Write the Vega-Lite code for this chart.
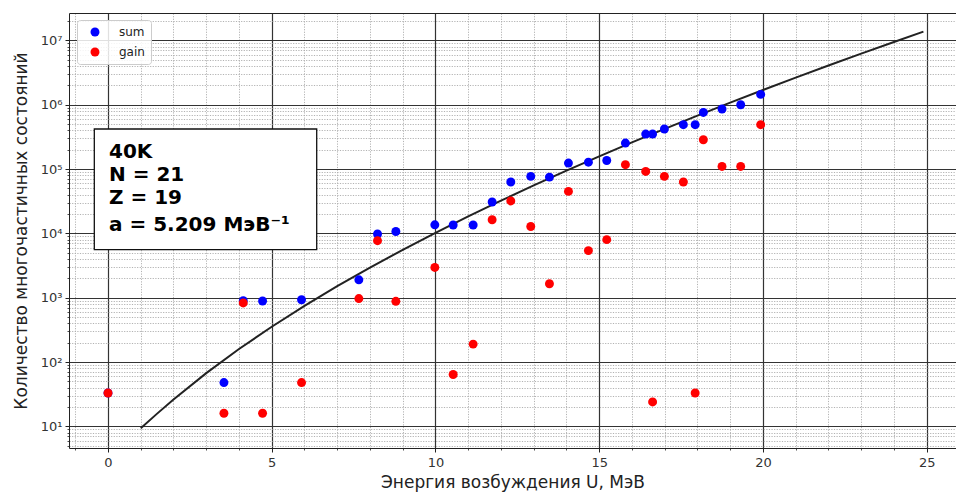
{
  "$schema": "https://vega.github.io/schema/vega-lite/v6.json",
  "width": 887,
  "height": 435,
  "autosize": {"type": "none"},
  "padding": {"left": 69, "top": 13, "right": 0, "bottom": 46},
  "background": "white",
  "config": {
    "view": {"stroke": null},
    "font": "DejaVu Sans",
    "axis": {"labelFont": "DejaVu Sans", "titleFont": "DejaVu Sans"}
  },
  "datasets": {
    "levels": [
      {"U": 0, "N": 33, "series": "sum"},
      {"U": 3.54, "N": 48, "series": "sum"},
      {"U": 4.13, "N": 900, "series": "sum"},
      {"U": 4.72, "N": 890, "series": "sum"},
      {"U": 5.91, "N": 930, "series": "sum"},
      {"U": 7.66, "N": 1900, "series": "sum"},
      {"U": 8.23, "N": 9800, "series": "sum"},
      {"U": 8.79, "N": 10700, "series": "sum"},
      {"U": 9.98, "N": 13600, "series": "sum"},
      {"U": 10.54, "N": 13500, "series": "sum"},
      {"U": 11.15, "N": 13500, "series": "sum"},
      {"U": 11.73, "N": 30800, "series": "sum"},
      {"U": 12.3, "N": 63000, "series": "sum"},
      {"U": 12.91, "N": 77000, "series": "sum"},
      {"U": 13.48, "N": 75000, "series": "sum"},
      {"U": 14.06, "N": 124000, "series": "sum"},
      {"U": 14.67, "N": 128000, "series": "sum"},
      {"U": 15.23, "N": 136000, "series": "sum"},
      {"U": 15.8, "N": 254000, "series": "sum"},
      {"U": 16.42, "N": 350000, "series": "sum"},
      {"U": 16.63, "N": 350000, "series": "sum"},
      {"U": 16.99, "N": 420000, "series": "sum"},
      {"U": 17.57, "N": 490000, "series": "sum"},
      {"U": 17.93, "N": 490000, "series": "sum"},
      {"U": 18.18, "N": 760000, "series": "sum"},
      {"U": 18.75, "N": 860000, "series": "sum"},
      {"U": 19.32, "N": 1000000, "series": "sum"},
      {"U": 19.93, "N": 1450000, "series": "sum"},
      {"U": 0, "N": 33, "series": "gain"},
      {"U": 3.54, "N": 16, "series": "gain"},
      {"U": 4.13, "N": 830, "series": "gain"},
      {"U": 4.72, "N": 16, "series": "gain"},
      {"U": 5.91, "N": 48, "series": "gain"},
      {"U": 7.66, "N": 970, "series": "gain"},
      {"U": 8.23, "N": 7700, "series": "gain"},
      {"U": 8.79, "N": 880, "series": "gain"},
      {"U": 9.98, "N": 2960, "series": "gain"},
      {"U": 10.54, "N": 64, "series": "gain"},
      {"U": 11.15, "N": 190, "series": "gain"},
      {"U": 11.73, "N": 16300, "series": "gain"},
      {"U": 12.3, "N": 32000, "series": "gain"},
      {"U": 12.91, "N": 12800, "series": "gain"},
      {"U": 13.48, "N": 1650, "series": "gain"},
      {"U": 14.06, "N": 45000, "series": "gain"},
      {"U": 14.67, "N": 5400, "series": "gain"},
      {"U": 15.23, "N": 8000, "series": "gain"},
      {"U": 15.8, "N": 117000, "series": "gain"},
      {"U": 16.42, "N": 92000, "series": "gain"},
      {"U": 16.63, "N": 24, "series": "gain"},
      {"U": 16.99, "N": 77000, "series": "gain"},
      {"U": 17.57, "N": 63000, "series": "gain"},
      {"U": 17.93, "N": 33, "series": "gain"},
      {"U": 18.18, "N": 286000, "series": "gain"},
      {"U": 18.75, "N": 110000, "series": "gain"},
      {"U": 19.32, "N": 110000, "series": "gain"},
      {"U": 19.93, "N": 490000, "series": "gain"}
    ],
    "density": [
      {"U": 1, "rho": 9.39},
      {"U": 1.5, "rho": 15.78},
      {"U": 2, "rho": 26.15},
      {"U": 3, "rho": 67.2},
      {"U": 4, "rho": 159.3},
      {"U": 5, "rho": 354.2},
      {"U": 6, "rho": 747},
      {"U": 7, "rho": 1509},
      {"U": 8, "rho": 2940},
      {"U": 9, "rho": 5553},
      {"U": 10, "rho": 10210},
      {"U": 11, "rho": 18340},
      {"U": 12, "rho": 32240},
      {"U": 13, "rho": 55640},
      {"U": 14, "rho": 94380},
      {"U": 15, "rho": 157700},
      {"U": 16, "rho": 259700},
      {"U": 17, "rho": 422400},
      {"U": 18, "rho": 678500},
      {"U": 19, "rho": 1078300},
      {"U": 20, "rho": 1696000},
      {"U": 21, "rho": 2641000},
      {"U": 22, "rho": 4077000},
      {"U": 23, "rho": 6240000},
      {"U": 24, "rho": 9475000},
      {"U": 24.9, "rho": 13710000}
    ],
    "note": [{}]
  },
  "layer": [
    {
      "data": {"name": "density"},
      "mark": {"type": "line", "color": "#222222", "strokeWidth": 2, "clip": true},
      "encoding": {
        "x": {
          "field": "U", "type": "quantitative",
          "scale": {"domain": [-1.191, 25.895], "nice": false, "zero": false},
          "axis": {
            "orient": "bottom",
            "values": [-1, 1, 2, 3, 4, 6, 7, 8, 9, 11, 12, 13, 14, 16, 17, 18, 19, 21, 22, 23, 24],
            "labels": false, "domain": false, "title": null,
            "ticks": true, "tickSize": 2, "tickColor": "#222222", "tickWidth": 0.8,
            "grid": true, "gridColor": "#aaaaaa", "gridDash": [1.2, 1.4], "gridWidth": 0.9
          }
        },
        "y": {
          "field": "rho", "type": "quantitative",
          "scale": {"type": "log", "domain": [4.61, 26700000], "nice": false},
          "axis": {
            "orient": "left",
            "values": [5, 6, 7, 8, 9, 20, 30, 40, 50, 60, 70, 80, 90, 200, 300, 400, 500, 600, 700, 800, 900, 2000, 3000, 4000, 5000, 6000, 7000, 8000, 9000, 20000, 30000, 40000, 50000, 60000, 70000, 80000, 90000, 200000, 300000, 400000, 500000, 600000, 700000, 800000, 900000, 2000000, 3000000, 4000000, 5000000, 6000000, 7000000, 8000000, 9000000, 20000000],
            "labels": false, "domain": false, "title": null,
            "ticks": true, "tickSize": 2, "tickColor": "#222222", "tickWidth": 0.8,
            "grid": true, "gridColor": "#aaaaaa", "gridDash": [1.2, 1.4], "gridWidth": 0.9
          }
        }
      }
    },
    {
      "data": {"name": "levels"},
      "mark": {"type": "point", "filled": true, "opacity": 1, "size": 80},
      "encoding": {
        "x": {
          "field": "U", "type": "quantitative",
          "axis": {
            "orient": "bottom",
            "values": [0, 5, 10, 15, 20, 25],
            "title": "Энергия возбуждения U, МэВ",
            "titleFontSize": 17, "titleFontWeight": "normal", "titleColor": "#222222", "titlePadding": 5,
            "labelFontSize": 13, "labelColor": "#333333", "labelPadding": 4,
            "domain": true, "domainColor": "#222222", "domainWidth": 1,
            "ticks": true, "tickSize": 4, "tickColor": "#222222", "tickWidth": 1,
            "grid": true, "gridColor": "#333333", "gridWidth": 1.2
          }
        },
        "y": {
          "field": "N", "type": "quantitative",
          "axis": {
            "orient": "left",
            "values": [10, 100, 1000, 10000, 100000, 1000000, 10000000],
            "labelExpr": "'10' + ['⁰','¹','²','³','⁴','⁵','⁶','⁷'][round(log(datum.value) / LN10)]",
            "title": "Количество многочастичных состояний",
            "titleFontSize": 17, "titleFontWeight": "normal", "titleColor": "#222222", "titlePadding": 10,
            "labelFontSize": 13, "labelColor": "#333333", "labelPadding": 3,
            "domain": true, "domainColor": "#222222", "domainWidth": 1,
            "ticks": true, "tickSize": 4, "tickColor": "#222222", "tickWidth": 1,
            "grid": true, "gridColor": "#333333", "gridWidth": 1.2
          }
        },
        "color": {
          "field": "series", "type": "nominal",
          "scale": {"domain": ["sum", "gain"], "range": ["#0000ff", "#ff0000"]},
          "legend": {
            "orient": "none", "legendX": 8, "legendY": 7, "title": null,
            "fillColor": "rgba(255,255,255,0.85)", "strokeColor": "#cccccc", "cornerRadius": 3,
            "padding": 6, "symbolOffset": 6, "symbolSize": 80, "symbolType": "circle",
            "labelFontSize": 12, "labelColor": "#222222", "labelOffset": 18, "rowPadding": 8,
            "zindex": 1
          }
        }
      }
    },
    {
      "data": {"name": "levels"},
      "mark": {"type": "point", "opacity": 0},
      "encoding": {
        "x": {
          "field": "U", "type": "quantitative",
          "axis": {
            "orient": "top", "labels": false, "ticks": false, "grid": false, "title": null,
            "domain": true, "domainColor": "#222222", "domainWidth": 1
          }
        },
        "y": {"field": "N", "type": "quantitative", "axis": null}
      }
    },
    {
      "data": {"name": "note"},
      "mark": {"type": "rect", "fill": "white", "stroke": "#111111", "strokeWidth": 1.3},
      "encoding": {
        "x": {"datum": -0.418, "type": "quantitative", "axis": null},
        "x2": {"datum": 6.373},
        "y": {"datum": 419500, "type": "quantitative", "axis": null},
        "y2": {"datum": 5577}
      }
    },
    {
      "data": {"name": "note"},
      "mark": {
        "type": "text", "text": ["40K", "N = 21", "Z = 19"],
        "align": "left", "baseline": "alphabetic", "lineHeight": 23,
        "font": "DejaVu Sans", "fontWeight": "bold", "fontSize": 20, "color": "#000000"
      },
      "encoding": {
        "x": {"datum": 0.03, "type": "quantitative", "axis": null},
        "y": {"datum": 148600, "type": "quantitative", "axis": null}
      }
    },
    {
      "data": {"name": "note"},
      "mark": {
        "type": "text", "text": "a = 5.209 МэВ⁻¹",
        "align": "left", "baseline": "alphabetic",
        "font": "DejaVu Sans", "fontWeight": "bold", "fontSize": 20, "color": "#000000"
      },
      "encoding": {
        "x": {"datum": 0.03, "type": "quantitative", "axis": null},
        "y": {"datum": 11010, "type": "quantitative", "axis": null}
      }
    }
  ],
  "resolve": {"axis": {"x": "independent", "y": "independent"}}
}
